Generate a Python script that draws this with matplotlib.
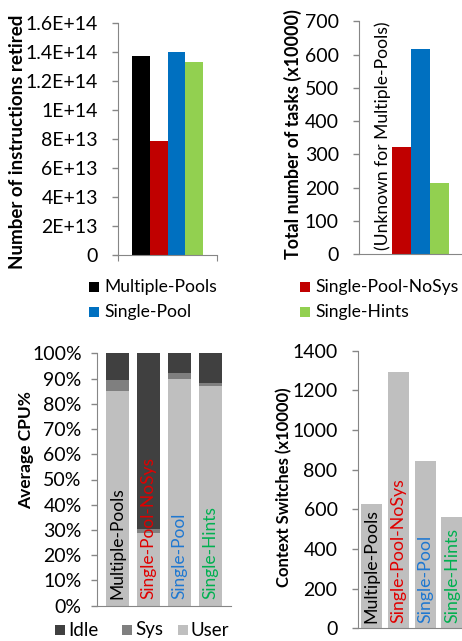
import matplotlib
matplotlib.use("Agg")
import matplotlib.pyplot as plt
from matplotlib.patches import Rectangle
import numpy as np

plt.rcParams['font.family'] = ['Lato', 'DejaVu Sans']

configs = ["Multiple-Pools", "Single-Pool-NoSys", "Single-Pool", "Single-Hints"]
colors = ["#000000", "#c00000", "#0070c0", "#92d050"]
label_colors = ["#000000", "#e00000", "#1f78d1", "#00b050"]

instructions = [1.37e14, 0.786e14, 1.398e14, 1.331e14]
tasks = [np.nan, 321, 616, 213]

cpu_user = [85.0, 29.0, 89.8, 87.2]
cpu_sys = [4.4, 1.4, 2.5, 1.2]
cpu_idle = [10.6, 69.6, 7.7, 11.6]

ctx_switches = [627, 1293, 843, 561]

W, H = 462, 641
fig = plt.figure(figsize=(W / 100, H / 100), dpi=100)

def fx(px):
    return px / W

def fy(py):
    return 1 - py / H

spine_c = "#868686"
tick_fs = 14

def style(ax, pad=10.5):
    for s in ["top", "right"]:
        ax.spines[s].set_visible(False)
    ax.spines["left"].set_color(spine_c)
    ax.spines["bottom"].set_color(spine_c)
    ax.tick_params(axis='y', colors=spine_c, labelcolor="#000000", labelsize=tick_fs,
                   direction='out', length=4, width=1, pad=pad)

# ---- Top-left: instructions ----
ax1 = fig.add_axes([fx(118), fy(255), fx(217) - fx(118), fy(23) - fy(255)])
x = np.arange(4)
ax1.bar(x, instructions, width=1.0, color=colors)
ax1.set_xlim(-1.29, 4.29)
ax1.set_ylim(0, 1.6e14)
ax1.set_yticks(np.arange(0, 1.61e14, 2e13))
ax1.set_yticklabels(["0", "2E+13", "4E+13", "6E+13", "8E+13", "1E+14", "1.2E+14", "1.4E+14", "1.6E+14"])
ax1.set_xticks([-1.29, 4.29])
ax1.set_xticklabels([])
ax1.tick_params(axis='x', colors=spine_c, direction='out', length=4)
style(ax1)
fig.text(fx(18), fy(142), "Number of instructions retired", rotation=90, ha='center', va='center',
         fontsize=13.5, fontweight='bold')

# ---- Top-right: tasks ----
ax2 = fig.add_axes([fx(359), fy(254), 1.0 - fx(359), fy(21.3) - fy(254)])
ax2.bar(x, np.nan_to_num(tasks), width=1.0, color=colors)
ax2.set_xlim(-1.237, 4.18)
ax2.set_ylim(0, 700)
ax2.set_yticks(np.arange(0, 701, 100))
ax2.set_xticks([])
style(ax2)
ax2.text(0, 12, "(Unknown for Multiple-Pools)", rotation=90, ha='center', va='bottom',
         fontsize=12.6)
fig.text(fx(292.5), fy(134.5), "Total number of tasks (x10000)", rotation=90, ha='center', va='center',
         fontsize=12.9, fontweight='bold')

# ---- Legend (top) ----
leg_items = [(89, 287), (300, 287), (89, 312), (300, 312)]
for i, (px, py) in enumerate(leg_items):
    fig.patches.append(Rectangle((fx(px), fy(py + 5)), fx(10), 10 / H, transform=fig.transFigure,
                                 facecolor=colors[i], edgecolor='none'))
    fig.text(fx(px + 15), fy(py), configs[i], ha='left', va='center', fontsize=12.6)

# ---- Bottom-left: CPU ----
ax3 = fig.add_axes([fx(97), fy(605.7), fx(231) - fx(97), fy(353.3) - fy(605.7)])
c_idle, c_sys, c_user = "#404040", "#7f7f7f", "#bfbfbf"
bw = 0.74
ax3.bar(x, cpu_user, width=bw, color=c_user, label="User")
ax3.bar(x, cpu_sys, width=bw, bottom=cpu_user, color=c_sys, label="Sys")
ax3.bar(x, cpu_idle, width=bw, bottom=np.array(cpu_user) + np.array(cpu_sys), color=c_idle, label="Idle")
ax3.set_xlim(-0.66, 3.66)
ax3.set_ylim(0, 100)
ax3.set_yticks(np.arange(0, 101, 10))
ax3.set_yticklabels([f"{v}%" for v in range(0, 101, 10)])
ax3.set_xticks([])
style(ax3, pad=7)
for i, lab in enumerate(configs):
    ax3.text(i, 2.5, lab, rotation=90, ha='center', va='bottom', color=label_colors[i], fontsize=12.5)
fig.text(fx(26), fy(450), "Average CPU%", rotation=90, ha='center', va='center',
         fontsize=12.5, fontweight='bold')

leg2 = [(55, "Idle", c_idle), (122, "Sys", c_sys), (178, "User", c_user)]
for px, lab, col in leg2:
    fig.patches.append(Rectangle((fx(px), fy(635)), fx(10), 10 / H, transform=fig.transFigure,
                                 facecolor=col, edgecolor='none'))
    fig.text(fx(px + 13), fy(630), lab, ha='left', va='center', fontsize=13.5)

# ---- Bottom-right: context switches ----
ax4 = fig.add_axes([fx(357.7), fy(628.3), 1.0 - fx(357.7), fy(350.7) - fy(628.3)])
ax4.bar(x, ctx_switches, width=0.78, color=c_user)
ax4.set_xlim(-0.515, 3.375)
ax4.set_ylim(0, 1400)
ax4.set_yticks(np.arange(0, 1401, 200))
ax4.set_xticks([])
style(ax4)
for i, lab in enumerate(configs):
    ax4.text(i, 25, lab, rotation=90, ha='center', va='bottom', color=label_colors[i], fontsize=12.8)
fig.text(fx(284), fy(487), "Context Switches (x10000)", rotation=90, ha='center', va='center',
         fontsize=12.0, fontweight='bold')

fig.savefig("out.png", dpi=100)
